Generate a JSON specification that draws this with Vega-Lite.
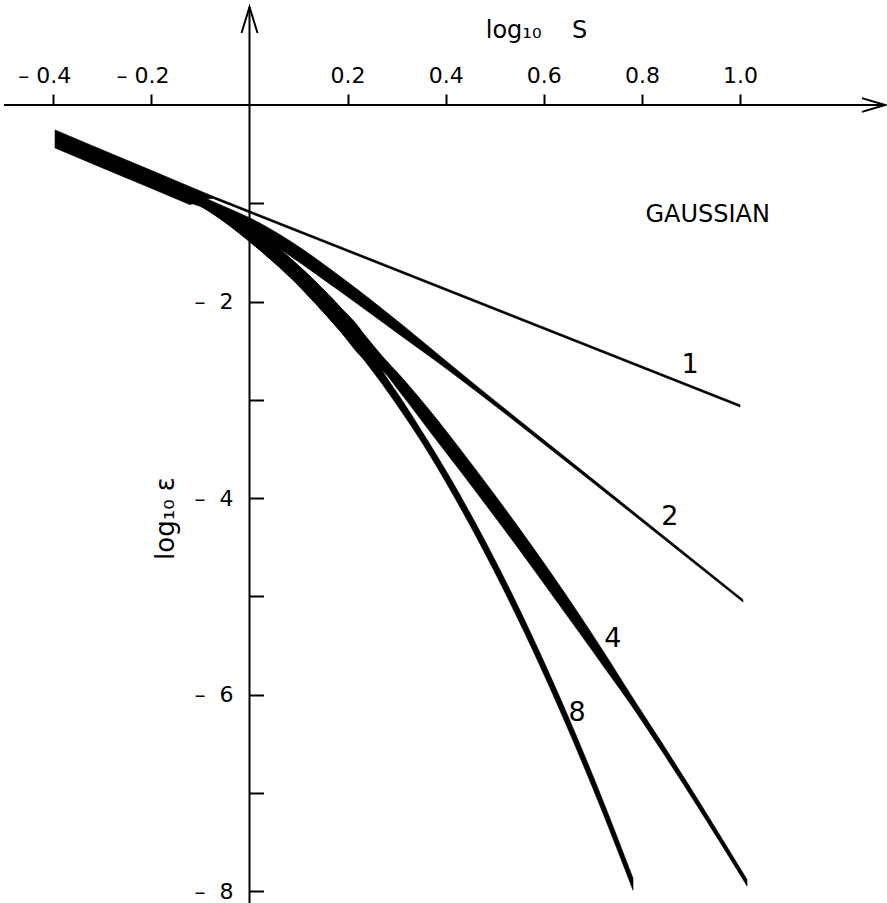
{
  "$schema": "https://vega.github.io/schema/vega-lite/v6.json",
  "width": 887,
  "height": 903,
  "autosize": {"type": "none"},
  "padding": 0,
  "background": "white",
  "config": {"view": {"stroke": null}, "font": "DejaVu Sans"},
  "datasets": {
    "curves": [
      {"curve": "1", "x": -0.3965, "upper": -0.254, "lower": -0.437},
      {"curve": "1", "x": -0.3048, "upper": -0.447, "lower": -0.630},
      {"curve": "1", "x": -0.2029, "upper": -0.660, "lower": -0.843},
      {"curve": "1", "x": -0.1213, "upper": -0.831, "lower": -1.014},
      {"curve": "1", "x": -0.0907, "upper": -0.895, "lower": -0.956},
      {"curve": "1", "x": -0.0744, "upper": -0.929, "lower": -0.951},
      {"curve": "1", "x": 1.0000, "upper": -3.051, "lower": -3.073},

      {"curve": "2", "x": -0.1213, "upper": -0.885, "lower": -0.997},
      {"curve": "2", "x": -0.0866, "upper": -0.956, "lower": -1.058},
      {"curve": "2", "x": -0.0398, "upper": -1.058, "lower": -1.170},
      {"curve": "2", "x": 0.0010, "upper": -1.150, "lower": -1.272},
      {"curve": "2", "x": 0.0826, "upper": -1.383, "lower": -1.536},
      {"curve": "2", "x": 0.1845, "upper": -1.744, "lower": -1.896},
      {"curve": "2", "x": 0.3068, "upper": -2.219, "lower": -2.341},
      {"curve": "2", "x": 0.3884, "upper": -2.554, "lower": -2.636},
      {"curve": "2", "x": 0.4699, "upper": -2.887, "lower": -2.943},
      {"curve": "2", "x": 0.6188, "upper": -3.484, "lower": -3.523},
      {"curve": "2", "x": 0.8165, "upper": -4.275, "lower": -4.305},
      {"curve": "2", "x": 1.0061, "upper": -5.033, "lower": -5.059},

      {"curve": "4", "x": -0.1213, "upper": -0.877, "lower": -0.968},
      {"curve": "4", "x": -0.0866, "upper": -0.987, "lower": -1.069},
      {"curve": "4", "x": -0.0398, "upper": -1.100, "lower": -1.232},
      {"curve": "4", "x": 0.0010, "upper": -1.231, "lower": -1.394},
      {"curve": "4", "x": 0.0418, "upper": -1.384, "lower": -1.567},
      {"curve": "4", "x": 0.0826, "upper": -1.558, "lower": -1.752},
      {"curve": "4", "x": 0.1335, "upper": -1.791, "lower": -2.015},
      {"curve": "4", "x": 0.1825, "upper": -2.044, "lower": -2.288},
      {"curve": "4", "x": 0.2294, "upper": -2.309, "lower": -2.569},
      {"curve": "4", "x": 0.2701, "upper": -2.553, "lower": -2.696},
      {"curve": "4", "x": 0.3089, "upper": -2.764, "lower": -2.937},
      {"curve": "4", "x": 0.3680, "upper": -3.112, "lower": -3.325},
      {"curve": "4", "x": 0.4292, "upper": -3.500, "lower": -3.723},
      {"curve": "4", "x": 0.4903, "upper": -3.903, "lower": -4.126},
      {"curve": "4", "x": 0.5515, "upper": -4.319, "lower": -4.537},
      {"curve": "4", "x": 0.6126, "upper": -4.749, "lower": -4.957},
      {"curve": "4", "x": 0.6738, "upper": -5.198, "lower": -5.380},
      {"curve": "4", "x": 0.7288, "upper": -5.617, "lower": -5.764},
      {"curve": "4", "x": 0.7757, "upper": -5.989, "lower": -6.091},
      {"curve": "4", "x": 0.8369, "upper": -6.461, "lower": -6.548},
      {"curve": "4", "x": 0.9185, "upper": -7.103, "lower": -7.180},
      {"curve": "4", "x": 1.0143, "upper": -7.882, "lower": -7.948},

      {"curve": "8", "x": -0.1213, "upper": -0.877, "lower": -0.968},
      {"curve": "8", "x": -0.0866, "upper": -0.987, "lower": -1.069},
      {"curve": "8", "x": -0.0398, "upper": -1.100, "lower": -1.232},
      {"curve": "8", "x": 0.0010, "upper": -1.231, "lower": -1.394},
      {"curve": "8", "x": 0.0418, "upper": -1.384, "lower": -1.567},
      {"curve": "8", "x": 0.0826, "upper": -1.558, "lower": -1.752},
      {"curve": "8", "x": 0.1335, "upper": -1.791, "lower": -2.015},
      {"curve": "8", "x": 0.1825, "upper": -2.044, "lower": -2.288},
      {"curve": "8", "x": 0.2294, "upper": -2.309, "lower": -2.569},
      {"curve": "8", "x": 0.2701, "upper": -2.696, "lower": -2.838},
      {"curve": "8", "x": 0.3068, "upper": -2.972, "lower": -3.099},
      {"curve": "8", "x": 0.3578, "upper": -3.371, "lower": -3.485},
      {"curve": "8", "x": 0.4088, "upper": -3.792, "lower": -3.913},
      {"curve": "8", "x": 0.4699, "upper": -4.339, "lower": -4.467},
      {"curve": "8", "x": 0.5311, "upper": -4.934, "lower": -5.066},
      {"curve": "8", "x": 0.5923, "upper": -5.578, "lower": -5.710},
      {"curve": "8", "x": 0.6534, "upper": -6.267, "lower": -6.400},
      {"curve": "8", "x": 0.7146, "upper": -7.005, "lower": -7.134},
      {"curve": "8", "x": 0.7819, "upper": -7.870, "lower": -7.992}
    ],
    "curveLabels": [
      {"label": "1", "x": 0.898, "y": -2.643},
      {"label": "2", "x": 0.857, "y": -4.189},
      {"label": "4", "x": 0.741, "y": -5.440},
      {"label": "8", "x": 0.668, "y": -6.193}
    ],
    "notes": [
      {"label": "GAUSSIAN", "x": 0.934, "y": -1.12}
    ]
  },
  "layer": [
    {
      "data": {"values": [{}]},
      "mark": {"type": "rule", "color": "black", "strokeWidth": 2},
      "encoding": {
        "x": {"datum": 0, "type": "quantitative", "scale": {"domain": [-0.5087, 1.2997], "nice": false, "zero": false}, "axis": null},
        "y": {"datum": 0.9975, "type": "quantitative", "scale": {"domain": [-8.122, 1.0687], "nice": false, "zero": false},
          "axis": {"orient": "right", "offset": -637.5, "values": [-1, -2, -3, -4, -5, -6, -7, -8], "ticks": true, "tickSize": 14, "tickWidth": 2, "tickColor": "black", "labels": false, "domain": false, "grid": false, "title": null}},
        "y2": {"datum": -8.122}
      }
    },
    {
      "data": {"values": [{}]},
      "mark": {"type": "rule", "color": "black", "strokeWidth": 2},
      "encoding": {
        "x": {"datum": -0.5005, "type": "quantitative", "scale": {"domain": [-0.5087, 1.2997], "nice": false, "zero": false}, "axis": null},
        "x2": {"datum": 1.2956},
        "y": {"datum": 0, "type": "quantitative", "scale": {"domain": [-8.122, 1.0687], "nice": false, "zero": false}, "axis": null}
      }
    },
    {
      "data": {"name": "curves"},
      "transform": [{"filter": "datum.curve == '1'"}],
      "mark": {"type": "area", "color": "black", "stroke": "black", "strokeWidth": 0.6, "interpolate": "linear", "line": false},
      "encoding": {
        "x": {"field": "x", "type": "quantitative", "scale": {"domain": [-0.5087, 1.2997], "nice": false, "zero": false},
          "axis": {"orient": "top", "offset": -105, "values": [-0.4, -0.2, 0.2, 0.4, 0.6, 0.8, 1.0], "domain": false, "grid": false, "ticks": true, "tickSize": 11, "tickWidth": 2, "tickColor": "black",
            "labelExpr": "datum.value < 0 ? '–\u00a0' + format(-datum.value, '.1f') : format(datum.value, '.1f')",
            "labelAlign": "right", "labelOffset": 17.5,
            "labelFont": "DejaVu Sans", "labelFontSize": 22, "labelColor": "black", "labelPadding": 7, "labelOverlap": false, "labelFlush": false, "labelBound": false,
            "title": "log₁₀\u00a0\u00a0\u00a0\u00a0S", "titleFont": "DejaVu Sans", "titleFontSize": 24, "titleFontWeight": "normal", "titleColor": "black", "titleX": 536, "titleY": -75, "titleAlign": "center", "titleBaseline": "middle", "titleAngle": 0}},
        "y": {"field": "upper", "type": "quantitative", "scale": {"domain": [-8.122, 1.0687], "nice": false, "zero": false},
          "axis": {"orient": "left", "offset": -249.5, "values": [-2, -4, -6, -8], "domain": false, "grid": false, "ticks": false, "tickSize": 0,
            "labelExpr": "'–\u00a0\u00a0' + format(-datum.value, 'd')",
            "labelFont": "DejaVu Sans", "labelFontSize": 22, "labelColor": "black", "labelPadding": 16.5, "labelOverlap": false, "labelFlush": false, "labelBound": false,
            "title": "log₁₀ ε", "titleFont": "DejaVu Sans", "titleFontSize": 26, "titleFontWeight": "normal", "titleColor": "black", "titleX": -84, "titleY": 518, "titleAngle": 270, "titleAlign": "center", "titleBaseline": "middle"}},
        "y2": {"field": "lower"}
      }
    },
    {
      "data": {"name": "curves"},
      "transform": [{"filter": "datum.curve != '1'"}],
      "mark": {"type": "area", "color": "black", "stroke": "black", "strokeWidth": 0.6, "interpolate": "monotone", "line": false},
      "encoding": {
        "x": {"field": "x", "type": "quantitative", "scale": {"domain": [-0.5087, 1.2997], "nice": false, "zero": false}, "axis": null},
        "y": {"field": "upper", "type": "quantitative", "scale": {"domain": [-8.122, 1.0687], "nice": false, "zero": false}, "axis": null},
        "y2": {"field": "lower"},
        "detail": {"field": "curve", "type": "nominal"}
      }
    },
    {
      "data": {"values": [{}]},
      "mark": {"type": "point", "shape": "M -0.32 1.04 L 0 0 L 0.32 1.04", "size": 2500, "filled": false, "stroke": "black", "strokeWidth": 2, "opacity": 1},
      "encoding": {
        "x": {"datum": 0, "type": "quantitative", "scale": {"domain": [-0.5087, 1.2997], "nice": false, "zero": false}, "axis": null},
        "y": {"datum": 0.9975, "type": "quantitative", "scale": {"domain": [-8.122, 1.0687], "nice": false, "zero": false}, "axis": null}
      }
    },
    {
      "data": {"values": [{}]},
      "mark": {"type": "point", "shape": "M -1 -0.3 L 0 0 L -1 0.3", "size": 2116, "filled": false, "stroke": "black", "strokeWidth": 2, "opacity": 1},
      "encoding": {
        "x": {"datum": 1.2956, "type": "quantitative", "scale": {"domain": [-0.5087, 1.2997], "nice": false, "zero": false}, "axis": null},
        "y": {"datum": 0, "type": "quantitative", "scale": {"domain": [-8.122, 1.0687], "nice": false, "zero": false}, "axis": null}
      }
    },
    {
      "data": {"name": "curveLabels"},
      "mark": {"type": "text", "font": "DejaVu Sans", "fontSize": 27, "color": "black", "align": "center", "baseline": "middle"},
      "encoding": {
        "x": {"field": "x", "type": "quantitative", "scale": {"domain": [-0.5087, 1.2997], "nice": false, "zero": false}, "axis": null},
        "y": {"field": "y", "type": "quantitative", "scale": {"domain": [-8.122, 1.0687], "nice": false, "zero": false}, "axis": null},
        "text": {"field": "label", "type": "nominal"}
      }
    },
    {
      "data": {"name": "notes"},
      "mark": {"type": "text", "font": "DejaVu Sans", "fontSize": 24, "color": "black", "align": "center", "baseline": "middle"},
      "encoding": {
        "x": {"field": "x", "type": "quantitative", "scale": {"domain": [-0.5087, 1.2997], "nice": false, "zero": false}, "axis": null},
        "y": {"field": "y", "type": "quantitative", "scale": {"domain": [-8.122, 1.0687], "nice": false, "zero": false}, "axis": null},
        "text": {"field": "label", "type": "nominal"}
      }
    }
  ],
  "resolve": {"axis": {"x": "independent", "y": "independent"}}
}
